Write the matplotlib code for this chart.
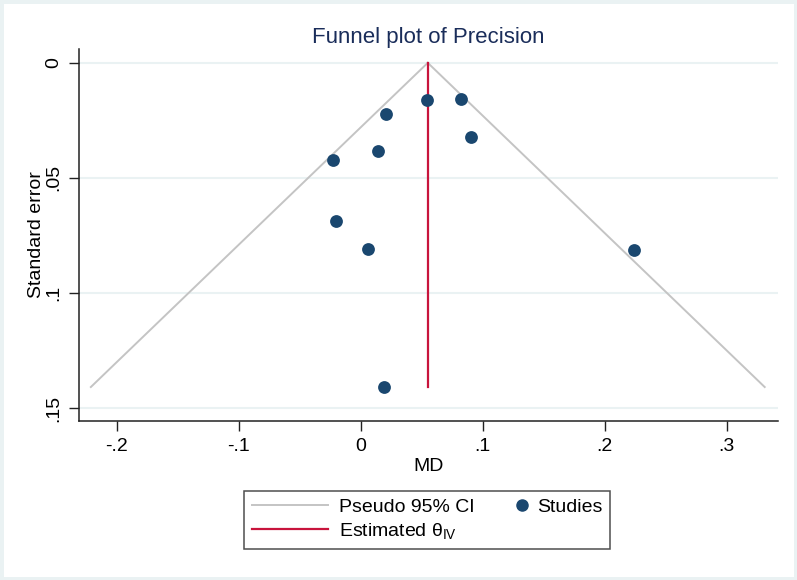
import matplotlib

matplotlib.use("Agg")

import matplotlib.pyplot as plt
import numpy as np
from matplotlib.legend_handler import HandlerBase
from matplotlib.lines import Line2D
from matplotlib.patches import Rectangle
from matplotlib.ticker import FuncFormatter

md = [0.054, 0.082, 0.021, 0.090, 0.014, -0.023, -0.020, 0.006, 0.224, 0.019]
se = [0.0161, 0.0157, 0.0222, 0.0322, 0.0383, 0.0422, 0.0687, 0.0809, 0.0813, 0.1409]

theta_iv = 0.0549
se_max = 0.1409

x_ticks = [-0.2, -0.1, 0, 0.1, 0.2, 0.3]
y_ticks = [0, 0.05, 0.1, 0.15]

NAVY = "#1a476f"
RED = "#c8143c"
GREY = "#c4c4c4"
GRID = "#eaf2f3"

plt.rcParams["font.family"] = ["Liberation Sans", "DejaVu Sans"]
plt.rcParams["mathtext.fontset"] = "custom"
plt.rcParams["mathtext.rm"] = "Liberation Sans"
plt.rcParams["mathtext.it"] = "Liberation Sans"


def stata_fmt(v, _pos=None):
    if abs(v) < 1e-12:
        return "0"
    return f"{v:g}".replace("0.", ".")


class RightMarkerHandler(HandlerBase):
    # Stata puts the marker key close to its label, not mid-handle
    def create_artists(self, legend, orig_handle, xdescent, ydescent,
                       width, height, fontsize, trans):
        x = width - xdescent - 0.2 * fontsize
        y = height / 2 - ydescent
        m = Line2D([x], [y], ls="", marker="o", markersize=8,
                   color=orig_handle.get_color(), transform=trans)
        return [m]


fig = plt.figure(figsize=(7.97, 5.8), dpi=100, facecolor="white")
ax = fig.add_axes([0.0991, 0.274, 0.8771, 0.6415])

# pseudo 95% CI funnel
se_line = np.array([0.0, se_max])
ax.plot(theta_iv - 1.96 * se_line, se_line, color=GREY, lw=1.4, zorder=2)
ax.plot(theta_iv + 1.96 * se_line, se_line, color=GREY, lw=1.4, zorder=2)
ax.plot([theta_iv, theta_iv], [0, se_max], color=RED, lw=1.6, zorder=3)
ax.scatter(md, se, s=85, color=NAVY, zorder=4, linewidths=0)

ax.set_xlim(-0.231, 0.342)
ax.set_ylim(0.1557, -0.006)
ax.set_xticks(x_ticks)
ax.set_yticks(y_ticks)
ax.xaxis.set_major_formatter(FuncFormatter(stata_fmt))
ax.yaxis.set_major_formatter(FuncFormatter(stata_fmt))
for lab in ax.get_yticklabels():
    lab.set_rotation(90)
    lab.set_va("center")

ax.tick_params(axis="both", labelsize=14, length=7, width=1, color="#222222", pad=5)
ax.grid(axis="y", color=GRID, lw=1.5)
ax.set_axisbelow(True)
for side in ("top", "right"):
    ax.spines[side].set_visible(False)
for side in ("left", "bottom"):
    ax.spines[side].set_linewidth(1.1)
    ax.spines[side].set_color("#222222")

ax.set_xlabel("MD", fontsize=14, labelpad=2)
ax.set_ylabel("Standard error", fontsize=14, labelpad=0)
ax.set_title("Funnel plot of Precision", fontsize=16, color="#1a2d5a", pad=4)

studies = Line2D([], [], ls="", marker="o", color=NAVY)
handles = [
    Line2D([], [], color=GREY, lw=1.4),
    Line2D([], [], color=RED, lw=1.6),
    studies,
]
labels = ["Pseudo 95% CI", r"Estimated θ$_{\mathrm{IV}}$", "Studies"]
leg = fig.legend(
    handles,
    labels,
    loc="center",
    bbox_to_anchor=(0.536, 0.104),
    ncol=2,
    fontsize=14,
    frameon=True,
    fancybox=False,
    edgecolor="#222222",
    handlelength=3.9,
    handletextpad=0.6,
    columnspacing=-1.3,
    borderpad=0.4,
    borderaxespad=0,
    labelspacing=0.25,
    handler_map={studies: RightMarkerHandler()},
)
leg.get_frame().set_linewidth(1.1)

# thin pale frame round the graph region
fig.patches.append(
    Rectangle((0, 0), 1, 1, transform=fig.transFigure, fill=False,
              edgecolor=GRID, lw=5, zorder=0)
)

fig.savefig("out.png", dpi=100, facecolor="white")
